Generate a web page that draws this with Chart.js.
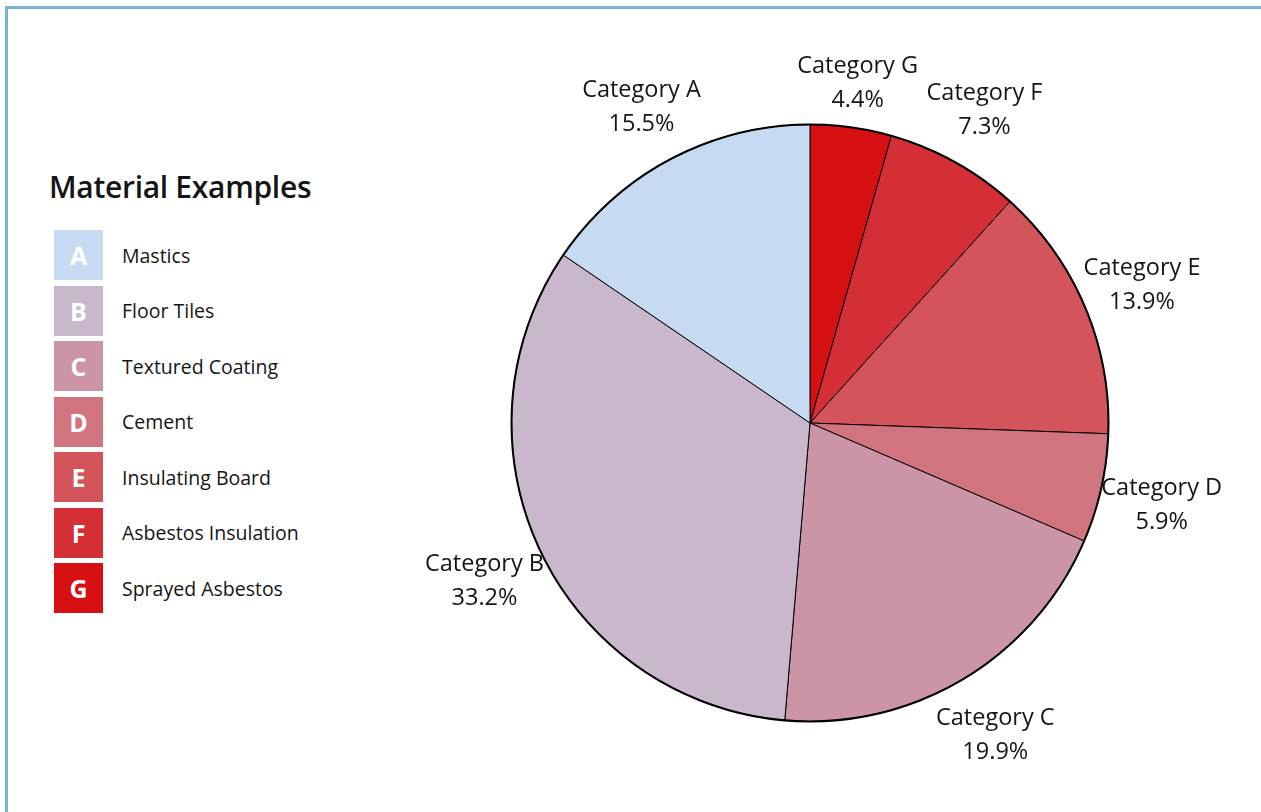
<!DOCTYPE html>
<html>
<head>
<meta charset="utf-8">
<script src="https://cdn.jsdelivr.net/npm/chart.js@4"></script>
<style>
  html, body { margin: 0; padding: 0; background: #fff; overflow: hidden; }
  body { width: 1261px; height: 812px; position: relative; font-family: "Open Sans", sans-serif; color: #151515; }
  .frame { position: absolute; left: 5px; top: 6px; width: 1400px; height: 1000px; border: 3px solid #78b3d5; }
  .legend { position: absolute; left: 49px; top: 165px; }
  .legend h2 { margin: 0 0 21px 0; font-size: 30px; font-weight: 600; letter-spacing: -0.3px; line-height: 44px; }
  .row { display: flex; align-items: center; height: 50px; margin-bottom: 5.5px; margin-left: 5px; }
  .box { width: 49px; height: 50px; color: #fff; font-weight: 700; font-size: 25px; display: flex; align-items: center; justify-content: center; }
  .name { margin-left: 19px; font-size: 19.5px; }
  #wrap { position: absolute; left: 370px; top: 34px; width: 880px; height: 778px; }
</style>
</head>
<body>
<div class="frame"></div>
<div class="legend" id="legend"><h2>Material Examples</h2></div>
<div id="wrap"><canvas id="pie"></canvas></div>
<script>
// slices in drawing order, clockwise from 12 o'clock
const categories = ['Category G', 'Category F', 'Category E', 'Category D', 'Category C', 'Category B', 'Category A'];
const shares = [4.4, 7.3, 13.9, 5.9, 19.9, 33.2, 15.5];
const sliceColors = ['#d61013', '#d42f36', '#d4545c', '#d07580', '#cc95a5', '#c9b8cb', '#c6dbf1'];

// legend on the left
const letters = ['A', 'B', 'C', 'D', 'E', 'F', 'G'];
const materials = ['Mastics', 'Floor Tiles', 'Textured Coating', 'Cement', 'Insulating Board', 'Asbestos Insulation', 'Sprayed Asbestos'];
const legendColors = ['#c6dbf1', '#c9b8cb', '#cc95a5', '#d07580', '#d4545c', '#d42f36', '#d61013'];

const legend = document.getElementById('legend');
letters.forEach((l, i) => {
  const row = document.createElement('div');
  row.className = 'row';
  row.innerHTML = `<div class="box" style="background:${legendColors[i]}">${l}</div><div class="name">${materials[i]}</div>`;
  legend.appendChild(row);
});

// outside labels + heavier outer ring
const outsideLabels = {
  id: 'outsideLabels',
  afterDatasetsDraw(chart) {
    const ctx = chart.ctx;
    const meta = chart.getDatasetMeta(0);
    const arc0 = meta.data[0];
    const cx = arc0.x, cy = arc0.y, R = arc0.outerRadius;

    ctx.save();
    ctx.beginPath();
    ctx.arc(cx, cy, R, 0, Math.PI * 2);
    ctx.lineWidth = 2;
    ctx.strokeStyle = '#000';
    ctx.stroke();

    ctx.font = '23.5px "Open Sans"';
    ctx.fillStyle = '#151515';
    ctx.textAlign = 'center';
    ctx.textBaseline = 'middle';
    meta.data.forEach((arc, i) => {
      const mid = (arc.startAngle + arc.endAngle) / 2;
      const side = Math.abs(Math.cos(mid));
      const r = R + 40 + 22 * Math.min(1, side * 2.5);
      const x = cx + Math.cos(mid) * r;
      const y = cy + Math.sin(mid) * r + 3;
      ctx.fillText(categories[i], x, y - 17);
      ctx.fillText(shares[i].toFixed(1) + '%', x, y + 17);
    });
    ctx.restore();
  }
};

new Chart(document.getElementById('pie'), {
  type: 'pie',
  data: {
    labels: categories,
    datasets: [{
      data: shares,
      backgroundColor: sliceColors,
      borderColor: '#000',
      borderWidth: 1
    }]
  },
  options: {
    responsive: true,
    maintainAspectRatio: false,
    animation: false,
    layout: { padding: 90 },
    plugins: { legend: { display: false }, tooltip: { enabled: false } }
  },
  plugins: [outsideLabels]
});
</script>
</body>
</html>
